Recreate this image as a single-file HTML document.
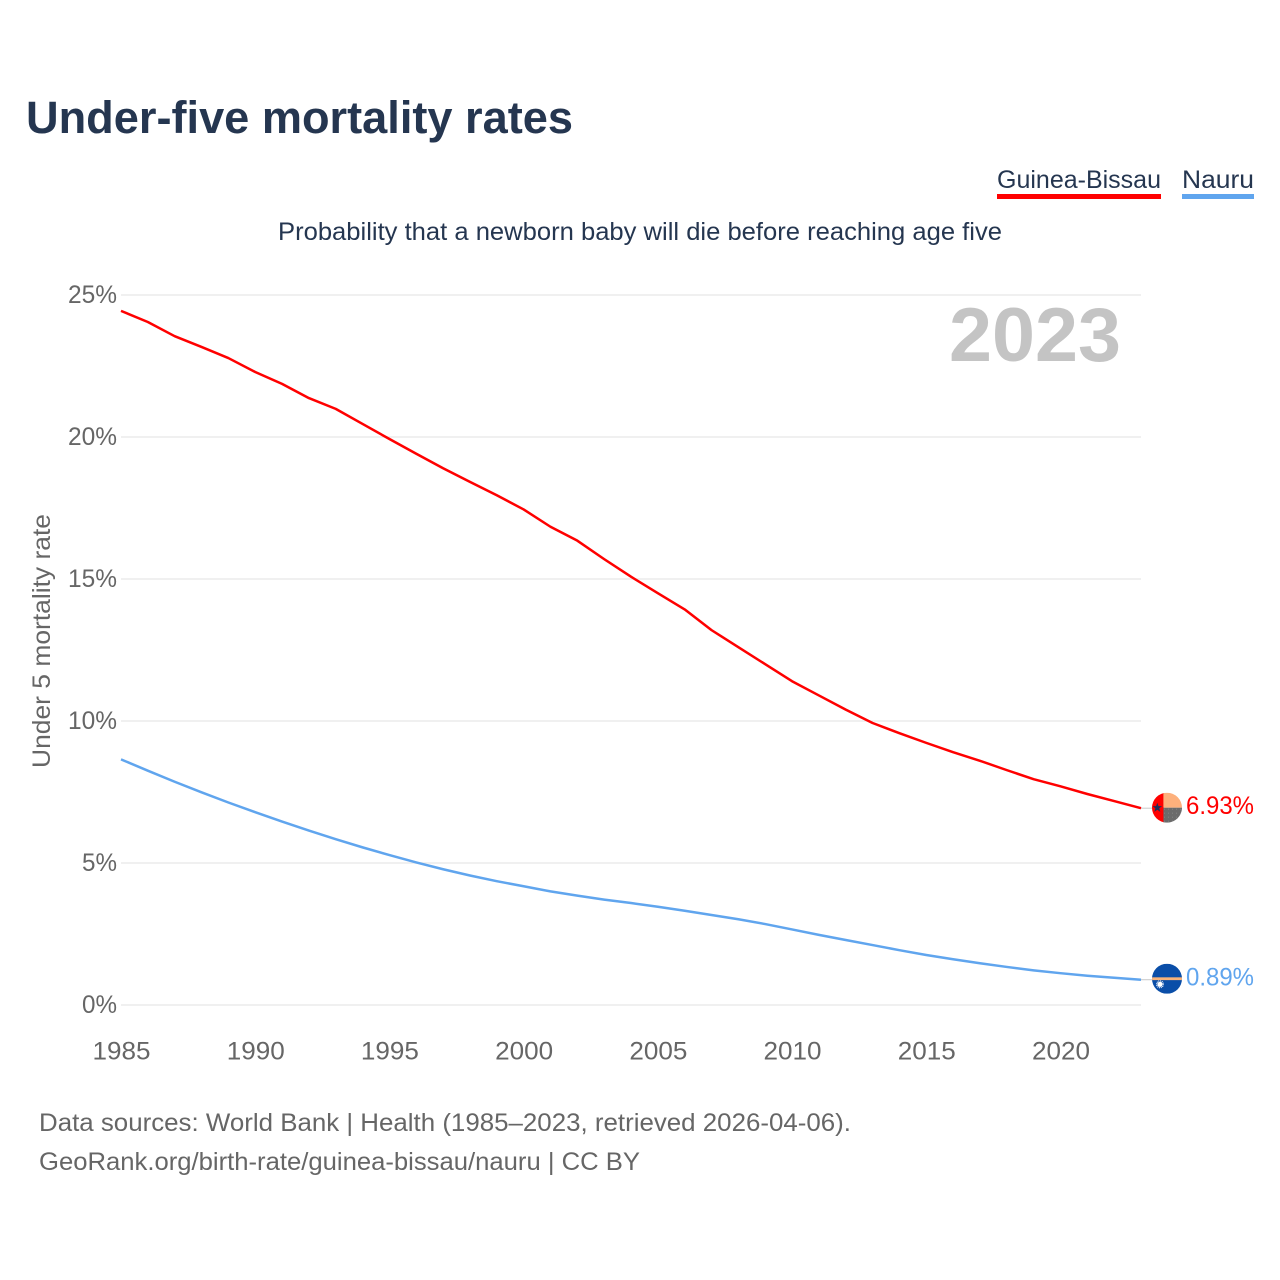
<!DOCTYPE html>
<html lang="en">
<head>
<meta charset="utf-8">
<title>Under-five mortality rates</title>
<style>
html,body{margin:0;padding:0;background:#fff;}
svg{display:block;font-family:"Liberation Sans",sans-serif;}
</style>
</head>
<body>
<svg id="chart" xmlns="http://www.w3.org/2000/svg" width="1280" height="1280" viewBox="0 0 1280 1280">
  <rect width="1280" height="1280" fill="#fff"/>
  <text x="26" y="133" font-size="45" font-weight="700" fill="#253650" textLength="547" lengthAdjust="spacingAndGlyphs">Under-five mortality rates</text>
  <text x="278" y="240" font-size="25" fill="#253650" textLength="724" lengthAdjust="spacingAndGlyphs">Probability that a newborn baby will die before reaching age five</text>

  <g>
    <text x="997" y="188" font-size="25" fill="#253650" textLength="164" lengthAdjust="spacingAndGlyphs">Guinea-Bissau</text>
    <rect x="997" y="194" width="164" height="5" fill="#ff0000"/>
  </g>
  <g>
    <text x="1182" y="188" font-size="25" fill="#253650" textLength="72" lengthAdjust="spacingAndGlyphs">Nauru</text>
    <rect x="1182" y="194" width="72" height="5" fill="#60a5ee"/>
  </g>

  <text transform="translate(50,768) rotate(-90)" font-size="25" fill="#666" textLength="254" lengthAdjust="spacingAndGlyphs">Under 5 mortality rate</text>

  <g id="grid"></g>
  <g id="yticks"></g>
  <g id="xticks"></g>

  <text x="949" y="361" font-size="76" font-weight="700" fill="#c4c4c4" textLength="172" lengthAdjust="spacingAndGlyphs">2023</text>

  <g id="series"></g>

  <defs>
    <clipPath id="flag-clip-gw"><circle cx="0" cy="0" r="15"/></clipPath>
    <clipPath id="flag-clip-nr"><circle cx="0" cy="0" r="15"/></clipPath>
    <pattern id="flag-dots" width="4" height="4" patternUnits="userSpaceOnUse">
      <rect width="4" height="4" fill="#6b6b6b"/>
      <rect x="1" y="1" width="1" height="1" fill="#848484"/>
    </pattern>
  </defs>

  <g id="flag-gw">
    <g clip-path="url(#flag-clip-gw)">
      <rect x="-15" y="-15" width="12" height="30" fill="#ff0000"/>
      <rect x="-3.6" y="-15" width="19" height="15" fill="#fdb07c"/>
      <rect x="-3.6" y="0" width="19" height="15" fill="url(#flag-dots)"/>
      <polygon transform="translate(-9.7,0)" points="0,-5 1.2,-1.6 4.8,-1.6 1.9,0.6 3,4.2 0,2.1 -3,4.2 -1.9,0.6 -4.8,-1.6 -1.2,-1.6" fill="#1c2f5a"/>
    </g>
  </g>
  <g id="flag-nr">
    <g clip-path="url(#flag-clip-nr)">
      <rect x="-15" y="-15" width="30" height="30" fill="#0a4ea8"/>
      <rect x="-15" y="-1.4" width="30" height="2.8" fill="#f7b27a"/>
      <circle cx="-7" cy="5.6" r="2.6" fill="#fff"/>
      <circle cx="-7" cy="5.6" r="3.4" fill="none" stroke="#fff" stroke-width="1.2" stroke-dasharray="0.9 0.88"/>
    </g>
  </g>

  <text id="end-label-gw" x="1186" font-size="25" fill="#ff0000" textLength="68" lengthAdjust="spacingAndGlyphs"></text>
  <text id="end-label-nr" x="1186" font-size="25" fill="#60a5ee" textLength="68" lengthAdjust="spacingAndGlyphs"></text>

  <text x="39" y="1131" font-size="25" fill="#666" textLength="812" lengthAdjust="spacingAndGlyphs">Data sources: World Bank | Health (1985–2023, retrieved 2026-04-06).</text>
  <text x="39" y="1170" font-size="25" fill="#666" textLength="601" lengthAdjust="spacingAndGlyphs">GeoRank.org/birth-rate/guinea-bissau/nauru | CC BY</text>
</svg>
<script>
var startYear = 1985;
var guineaBissau = [24.44,24.05,23.55,23.17,22.78,22.29,21.87,21.37,20.99,20.46,19.93,19.41,18.9,18.42,17.95,17.45,16.84,16.35,15.7,15.08,14.5,13.93,13.2,12.6,12.0,11.4,10.9,10.4,9.93,9.57,9.23,8.9,8.6,8.27,7.95,7.7,7.43,7.18,6.93];
var nauru = [8.65,8.25,7.86,7.49,7.13,6.79,6.46,6.14,5.84,5.55,5.28,5.02,4.78,4.56,4.36,4.18,4.0,3.85,3.71,3.59,3.46,3.32,3.17,3.02,2.85,2.66,2.47,2.29,2.11,1.93,1.76,1.61,1.47,1.34,1.22,1.12,1.03,0.96,0.89];
var yTicks = [0,5,10,15,20,25];
var xTicks = [1985,1990,1995,2000,2005,2010,2015,2020];

var NS = 'http://www.w3.org/2000/svg';
function xScale(year){ return 121 + (year - 1985) * (1141 - 121) / (2023 - 1985); }
function yScale(v){ return 1005 - v * (1005 - 295) / 25; }
function make(tag, attrs){
  var el = document.createElementNS(NS, tag);
  for (var k in attrs) el.setAttribute(k, attrs[k]);
  return el;
}

var grid = document.getElementById('grid');
var yTickGroup = document.getElementById('yticks');
yTicks.forEach(function(t){
  var line = make('line', {x1:121, x2:1141, y1:yScale(t), y2:yScale(t), stroke:'#ececec', 'stroke-width':1.6});
  
  
  grid.appendChild(line);
  var label = make('text', {x:117, y:yScale(t) + 8, 'font-size':25, fill:'#666', 'text-anchor':'end'});
  
  
  label.setAttribute('textLength', t < 10 ? 35 : 49);
  label.setAttribute('lengthAdjust', 'spacingAndGlyphs');
  label.textContent = t + '%';
  yTickGroup.appendChild(label);
});

var xTickGroup = document.getElementById('xticks');
xTicks.forEach(function(t){
  var label = make('text', {x:xScale(t) + 0.5, y:1059.5, 'font-size':25, fill:'#666', 'text-anchor':'middle'});
  
  
  label.setAttribute('textLength', 58);
  label.setAttribute('lengthAdjust', 'spacingAndGlyphs');
  label.textContent = t;
  xTickGroup.appendChild(label);
});

function linePath(values){
  return values.map(function(v, i){
    return (i ? 'L' : 'M') + xScale(startYear + i).toFixed(2) + ' ' + yScale(v).toFixed(2);
  }).join(' ');
}

var seriesGroup = document.getElementById('series');

var lastYear = startYear + guineaBissau.length - 1;

var connGw = make('line', {x1:xScale(lastYear), x2:1154, y1:yScale(guineaBissau[guineaBissau.length-1]), y2:yScale(guineaBissau[guineaBissau.length-1]), stroke:'#c8c8c8', 'stroke-width':1});


seriesGroup.appendChild(connGw);

var connNr = make('line', {x1:xScale(lastYear), x2:1154, y1:yScale(nauru[nauru.length-1]), y2:yScale(nauru[nauru.length-1]), stroke:'#c8c8c8', 'stroke-width':1});


seriesGroup.appendChild(connNr);

var lineGw = make('path', {d:linePath(guineaBissau), fill:'none', stroke:'#ff0000', 'stroke-width':2.5, 'stroke-linejoin':'round'});


seriesGroup.appendChild(lineGw);

var lineNr = make('path', {d:linePath(nauru), fill:'none', stroke:'#60a5ee', 'stroke-width':2.5, 'stroke-linejoin':'round'});


seriesGroup.appendChild(lineNr);

var gwLast = guineaBissau[guineaBissau.length-1];
var nrLast = nauru[nauru.length-1];
document.getElementById('flag-gw').setAttribute('transform', 'translate(1167,' + (yScale(gwLast) - 0.5) + ')');
document.getElementById('flag-nr').setAttribute('transform', 'translate(1167,' + (yScale(nrLast) - 1) + ')');
var endGw = document.getElementById('end-label-gw');
endGw.setAttribute('y', yScale(gwLast) + 6);
endGw.textContent = gwLast.toFixed(2) + '%';
var endNr = document.getElementById('end-label-nr');
endNr.setAttribute('y', yScale(nrLast) + 6);
endNr.textContent = nrLast.toFixed(2) + '%';
</script>
</body>
</html>
